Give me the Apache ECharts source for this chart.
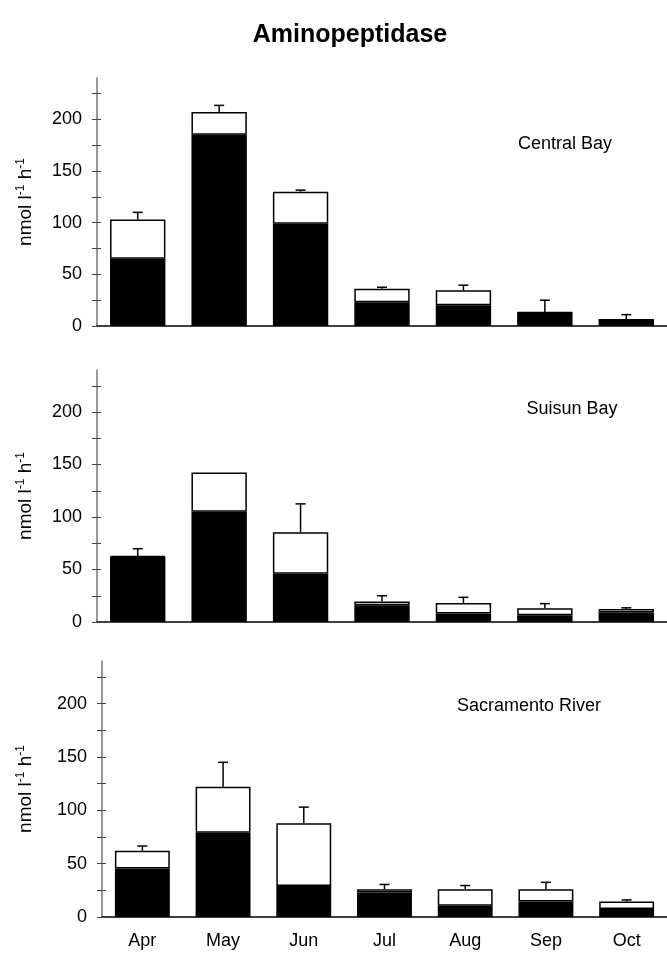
<!DOCTYPE html>
<html lang="en">
<head>
    <meta charset="UTF-8">
    <title>Aminopeptidase</title>
    <script src="https://cdn.jsdelivr.net/npm/echarts@6/dist/echarts.min.js"></script>
    <style>
        html, body { margin: 0; padding: 0; background: #fff; }
        #chart { width: 667px; height: 957px; }
    </style>
</head>
<body>
<div id="chart"></div>
<script>
    // months on the x axis
    var months = ['Apr', 'May', 'Jun', 'Jul', 'Aug', 'Sep', 'Oct'];

    // Central Bay: black part, white part stacked on top, upper error
    var centralDark = [65, 185, 99, 23, 20, 13, 6];
    var centralLight = [38, 22, 31, 13, 14.5, 0, 0];
    var centralSd = [7, 6.5, 1.5, 1.5, 5, 12, 5];

    // Suisun Bay
    var suisunDark = [62, 105, 46, 16, 8, 6.5, 9];
    var suisunLight = [0.8, 37.5, 39.5, 3.5, 10, 6.5, 3.5];
    var suisunSd = [7, 0, 27, 5.5, 5.5, 4.5, 1];

    // Sacramento River
    var sacDark = [45.5, 79, 29, 23, 10.5, 14.5, 7.5];
    var sacLight = [16.5, 43, 59, 3, 15.5, 11.5, 7];
    var sacSd = [4.5, 23, 15, 4.5, 3.5, 6.5, 1.5];

    // y axis labels and ticks
    var yLabels = [0, 50, 100, 150, 200];
    var yTicks = [0, 25, 50, 75, 100, 125, 150, 175, 200, 225];

    var panels = [
        {name: 'Central Bay', dark: centralDark, light: centralLight, sd: centralSd},
        {name: 'Suisun Bay', dark: suisunDark, light: suisunLight, sd: suisunSd},
        {name: 'Sacramento River', dark: sacDark, light: sacLight, sd: sacSd}
    ];

    var font = '"Liberation Sans", Arial, sans-serif';
    var grids = [
        {left: 97, top: 78, width: 572, height: 248},
        {left: 97, top: 370, width: 572, height: 252},
        {left: 102, top: 661, width: 572, height: 256}
    ];

    var xAxes = [], yAxes = [], series = [];

    panels.forEach(function (p, i) {
        xAxes.push({
            type: 'category',
            gridIndex: i,
            data: months,
            axisLine: {lineStyle: {color: '#000', width: 1.5}},
            axisTick: {show: false},
            axisLabel: {show: i === 2, color: '#000', fontSize: 18, fontFamily: font, margin: 15}
        });
        // main y axis with outside ticks and labels
        yAxes.push({
            type: 'value',
            gridIndex: i,
            min: 0,
            max: 240,
            interval: 25,
            name: '{a|nmol l}{s|-1}{a| h}{s|-1}',
            nameLocation: 'middle',
            nameGap: i === 2 ? 65 : 60,
            nameTextStyle: {
                color: '#000',
                rich: {
                    a: {fontSize: 19, fontFamily: font, color: '#000'},
                    s: {fontSize: 12, fontFamily: font, color: '#000', padding: [0, 0, 10, 0]}
                }
            },
            splitLine: {show: false},
            axisLine: {show: true, lineStyle: {color: '#777', width: 1.5}},
            axisTick: {show: true, length: 5, customValues: yTicks, lineStyle: {color: '#444', width: 1}},
            axisLabel: {color: '#000', fontSize: 18, fontFamily: font, margin: 15, customValues: yLabels}
        });
        // second axis only to draw the inner half of the ticks
        yAxes.push({
            type: 'value',
            gridIndex: i,
            position: 'left',
            min: 0,
            max: 240,
            interval: 25,
            splitLine: {show: false},
            axisLine: {show: false},
            axisLabel: {show: false},
            axisTick: {show: true, inside: true, length: 4, customValues: yTicks, lineStyle: {color: '#444', width: 1}}
        });

        series.push({
            type: 'bar',
            xAxisIndex: i,
            yAxisIndex: i * 2,
            stack: 'p' + i,
            barWidth: '68%',
            data: p.dark,
            itemStyle: {color: '#000', borderColor: '#000', borderWidth: 1.5}
        });
        series.push({
            type: 'bar',
            xAxisIndex: i,
            yAxisIndex: i * 2,
            stack: 'p' + i,
            barWidth: '68%',
            data: p.light,
            itemStyle: {color: '#fff', borderColor: '#000', borderWidth: 1.5}
        });

        var errData = months.map(function (m, k) {
            var top = p.dark[k] + p.light[k];
            return [k, top, top + p.sd[k]];
        });
        series.push({
            type: 'custom',
            xAxisIndex: i,
            yAxisIndex: i * 2,
            z: 5,
            data: errData,
            encode: {x: 0, y: [1, 2]},
            renderItem: function (params, api) {
                var lo = api.coord([api.value(0), api.value(1)]);
                var hi = api.coord([api.value(0), api.value(2)]);
                if (api.value(2) - api.value(1) <= 0) return null;
                var style = {stroke: '#000', lineWidth: 1.5};
                return {
                    type: 'group',
                    children: [
                        {type: 'line', shape: {x1: lo[0], y1: lo[1], x2: hi[0], y2: hi[1]}, style: style},
                        {type: 'line', shape: {x1: hi[0] - 5, y1: hi[1], x2: hi[0] + 5, y2: hi[1]}, style: style}
                    ]
                };
            }
        });
    });

    var chart = echarts.init(document.getElementById('chart'));
    chart.setOption({
        backgroundColor: '#fff',
        animation: false,
        title: [
            {text: 'Aminopeptidase', left: 345, top: 18, textAlign: 'center',
                textStyle: {fontSize: 25, fontWeight: 'bold', fontFamily: font, color: '#000'}},
            {text: 'Central Bay', left: 560, top: 130, textAlign: 'center',
                textStyle: {fontSize: 18, fontWeight: 'normal', fontFamily: font, color: '#000'}},
            {text: 'Suisun Bay', left: 567, top: 395, textAlign: 'center',
                textStyle: {fontSize: 18, fontWeight: 'normal', fontFamily: font, color: '#000'}},
            {text: 'Sacramento River', left: 524, top: 692, textAlign: 'center',
                textStyle: {fontSize: 18, fontWeight: 'normal', fontFamily: font, color: '#000'}}
        ],
        grid: grids,
        xAxis: xAxes,
        yAxis: yAxes,
        series: series
    });
</script>
</body>
</html>
